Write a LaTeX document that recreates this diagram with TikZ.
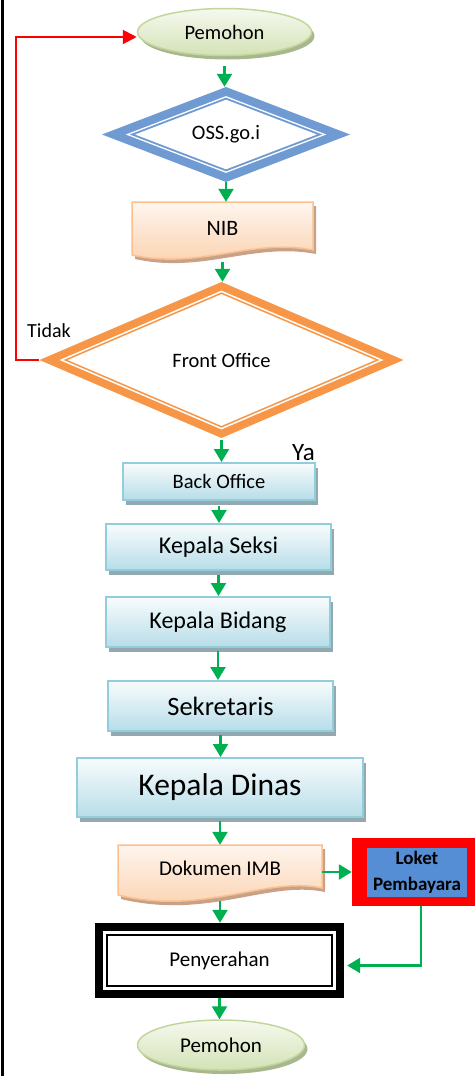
\documentclass[tikz,border=0pt]{standalone}
\usepackage{fontspec}
\setmainfont{Carlito}
\usetikzlibrary{arrows.meta,shapes.geometric,shadows}

\definecolor{flowgreen}{HTML}{00B050}
\definecolor{ovalline}{HTML}{C3D69B}
\definecolor{ovaltop}{HTML}{F6F9EF}
\definecolor{ovalbot}{HTML}{D3E2B6}
\definecolor{ovalshadow}{HTML}{A9B78E}
\definecolor{ossblue}{HTML}{6F9BD2}
\definecolor{foorange}{HTML}{F79646}
\definecolor{docline}{HTML}{FAC090}
\definecolor{doctop}{HTML}{FEF5EE}
\definecolor{docbot}{HTML}{FBCFA9}
\definecolor{docshadow}{HTML}{C8A288}
\definecolor{boxline}{HTML}{92CDDC}
\definecolor{boxtop}{HTML}{F8FCFD}
\definecolor{boxbot}{HTML}{B7DDE8}
\definecolor{boxshadow}{HTML}{93A9AF}
\definecolor{loketblue}{HTML}{558ED5}

\tikzset{
  fs/.style={font=\fontsize{#1pt}{#1pt}\selectfont},
  flow/.style={draw=flowgreen, line width=2.4pt, -{Triangle[width=15pt,length=13pt]}},
  terminal/.style={ellipse, draw=ovalline, line width=1.5pt, top color=ovaltop,
    bottom color=ovalbot, inner sep=0pt,
    drop shadow={shadow xshift=3pt, shadow yshift=-4pt, fill=ovalshadow, opacity=1}},
  stepbox/.style={rectangle, draw=boxline, line width=2pt, top color=boxtop,
    bottom color=boxbot, inner sep=0pt,
    drop shadow={shadow xshift=2.5pt, shadow yshift=-5pt, fill=boxshadow, opacity=1}},
  docpaper/.style={top color=doctop, bottom color=docbot, draw=docline, line width=1.5pt},
  plain/.style={inner sep=0pt},
}

\begin{document}
\begin{tikzpicture}[x=1pt, y=-1pt]
\useasboundingbox (0,0) rectangle (475,1076);

% page rule on the left
\draw[line width=2.5pt] (2.5,0) -- (2.5,1076);

% start terminal
\node[terminal, minimum width=174pt, minimum height=47pt, fs=20.5] (pem1) at (224.5,32) {Pemohon};

% OSS decision: thick band with a thin inner outline
\fill[ossblue] (102,134.5) -- (226,87) -- (350,134.5) -- (226,182) -- cycle;
\fill[white] (125.8,134.5) -- (226,96.1) -- (326.2,134.5) -- (226,172.9) -- cycle;
\draw[ossblue, line width=1.8pt] (132.2,134.5) -- (226,98.6) -- (319.8,134.5) -- (226,170.4) -- cycle;
\node[diamond, minimum width=248pt, minimum height=95pt, inner sep=0pt, fs=20.5] (oss) at (226,134.5) {OSS.go.i};

% NIB document
\fill[docshadow, xshift=3pt, yshift=-4pt] (132,202) -- (313,202) -- (313,250)
  .. controls (250,238) and (200,270) .. (132,255) -- cycle;
\shade[docpaper] (132,202) -- (313,202) -- (313,250)
  .. controls (250,238) and (200,270) .. (132,255) -- cycle;
\node[plain, minimum width=181pt, minimum height=52pt, fs=22] (nib) at (222.5,228) {NIB};

% Front Office decision
\fill[foorange] (39.5,360) -- (221.5,282) -- (403.5,360) -- (221.5,438) -- cycle;
\fill[white] (59.5,360) -- (221.5,290.6) -- (383.5,360) -- (221.5,429.4) -- cycle;
\draw[foorange, line width=1.5pt] (65.5,360) -- (221.5,293.2) -- (377.5,360) -- (221.5,426.8) -- cycle;
\node[diamond, minimum width=364pt, minimum height=156pt, inner sep=0pt, fs=20.5] (fo) at (221.5,360) {Front Office};

\node[plain, anchor=base west, fs=20] (tidak) at (27,337) {Tidak};
\node[plain, anchor=base west, fs=25] (ya) at (292,460) {Ya};

% processing chain
\node[stepbox, minimum width=192pt, minimum height=37pt, fs=20.5] (back) at (219,481.5) {Back Office};
\node[stepbox, minimum width=225pt, minimum height=46pt, fs=24] (seksi) at (218.5,547) {Kepala Seksi};
\node[stepbox, minimum width=224pt, minimum height=50pt, fs=24] (bidang) at (218,622) {Kepala Bidang};
\node[stepbox, minimum width=225pt, minimum height=50pt, fs=26.5] (sekr) at (220.5,706) {Sekretaris};
\node[stepbox, minimum width=286pt, minimum height=59pt, fs=31.5] (dinas) at (220,787.5) {Kepala Dinas};

% IMB document
\fill[docshadow, xshift=3pt, yshift=-4pt] (118,845) -- (322,845) -- (322,888)
  .. controls (265,876) and (205,916) .. (118,895) -- cycle;
\shade[docpaper] (118,845) -- (322,845) -- (322,888)
  .. controls (265,876) and (205,916) .. (118,895) -- cycle;
\node[plain, minimum width=204pt, minimum height=46pt, fs=21] (dok) at (220,868) {Dokumen IMB};

% payment counter
\node[fill=red, minimum width=123pt, minimum height=68pt, inner sep=0pt] (loketframe) at (413.5,872) {};
\node[fill=loketblue, minimum width=100pt, minimum height=49pt, inner sep=0pt, align=center,
  font=\bfseries\fontsize{19pt}{26pt}\selectfont] (loket) at (417,872.5) {Loket\\Pembayara};

% hand-over box with heavy double frame
\fill (95,923) rectangle (344,998);
\fill[white] (103,931) rectangle (336,990);
\draw[line width=1.5pt] (107,935) rectangle (332,986);
\node[plain, minimum width=249pt, minimum height=75pt, fs=21] (peny) at (219.5,960.5) {Penyerahan};

% end terminal
\node[terminal, minimum width=167pt, minimum height=50pt, fs=21] (pem2) at (221,1045) {Pemohon};

% main flow
\draw[flow, shorten <=10pt] (pem1.south) -- (pem1.south |- oss.north);
\draw[flow] (oss.south) -- (oss.south |- nib.north);
\draw[flow, shorten <=8pt] (nib.south) -- (nib.south |- fo.north);
\draw[flow, shorten <=2pt] (fo.south) -- (fo.south |- back.north);
\draw[flow, shorten <=5pt] (back.south) -- (back.south |- seksi.north);
\draw[flow, shorten <=4pt] (seksi.south) -- (seksi.south |- bidang.north);
\draw[flow, shorten <=3pt] (bidang.south) -- (bidang.south |- sekr.north);
\draw[flow, shorten <=3pt] (sekr.south) -- (sekr.south |- dinas.north);
\draw[flow, shorten <=3pt] (dinas.south) -- (dinas.south |- dok.north);
\draw[flow, shorten <=10pt] (dok.south) -- (dok.south |- peny.north);
\draw[flow] (peny.south) -- (peny.south |- pem2.north);

% payment branch
\draw[flow] (dok.east |- loketframe.west) -- (loketframe.west);
\draw[flow, shorten >=3pt] ([xshift=7.5pt]loketframe.south) |- ([yshift=-5pt]peny.east);

% rejection loop back to the applicant
\draw[red, line width=2pt, -{Triangle[width=14pt,length=14pt]}]
  (fo.west) -- ++(-23,0) |- ([yshift=-5pt]pem1.west);
\end{tikzpicture}
\end{document}
